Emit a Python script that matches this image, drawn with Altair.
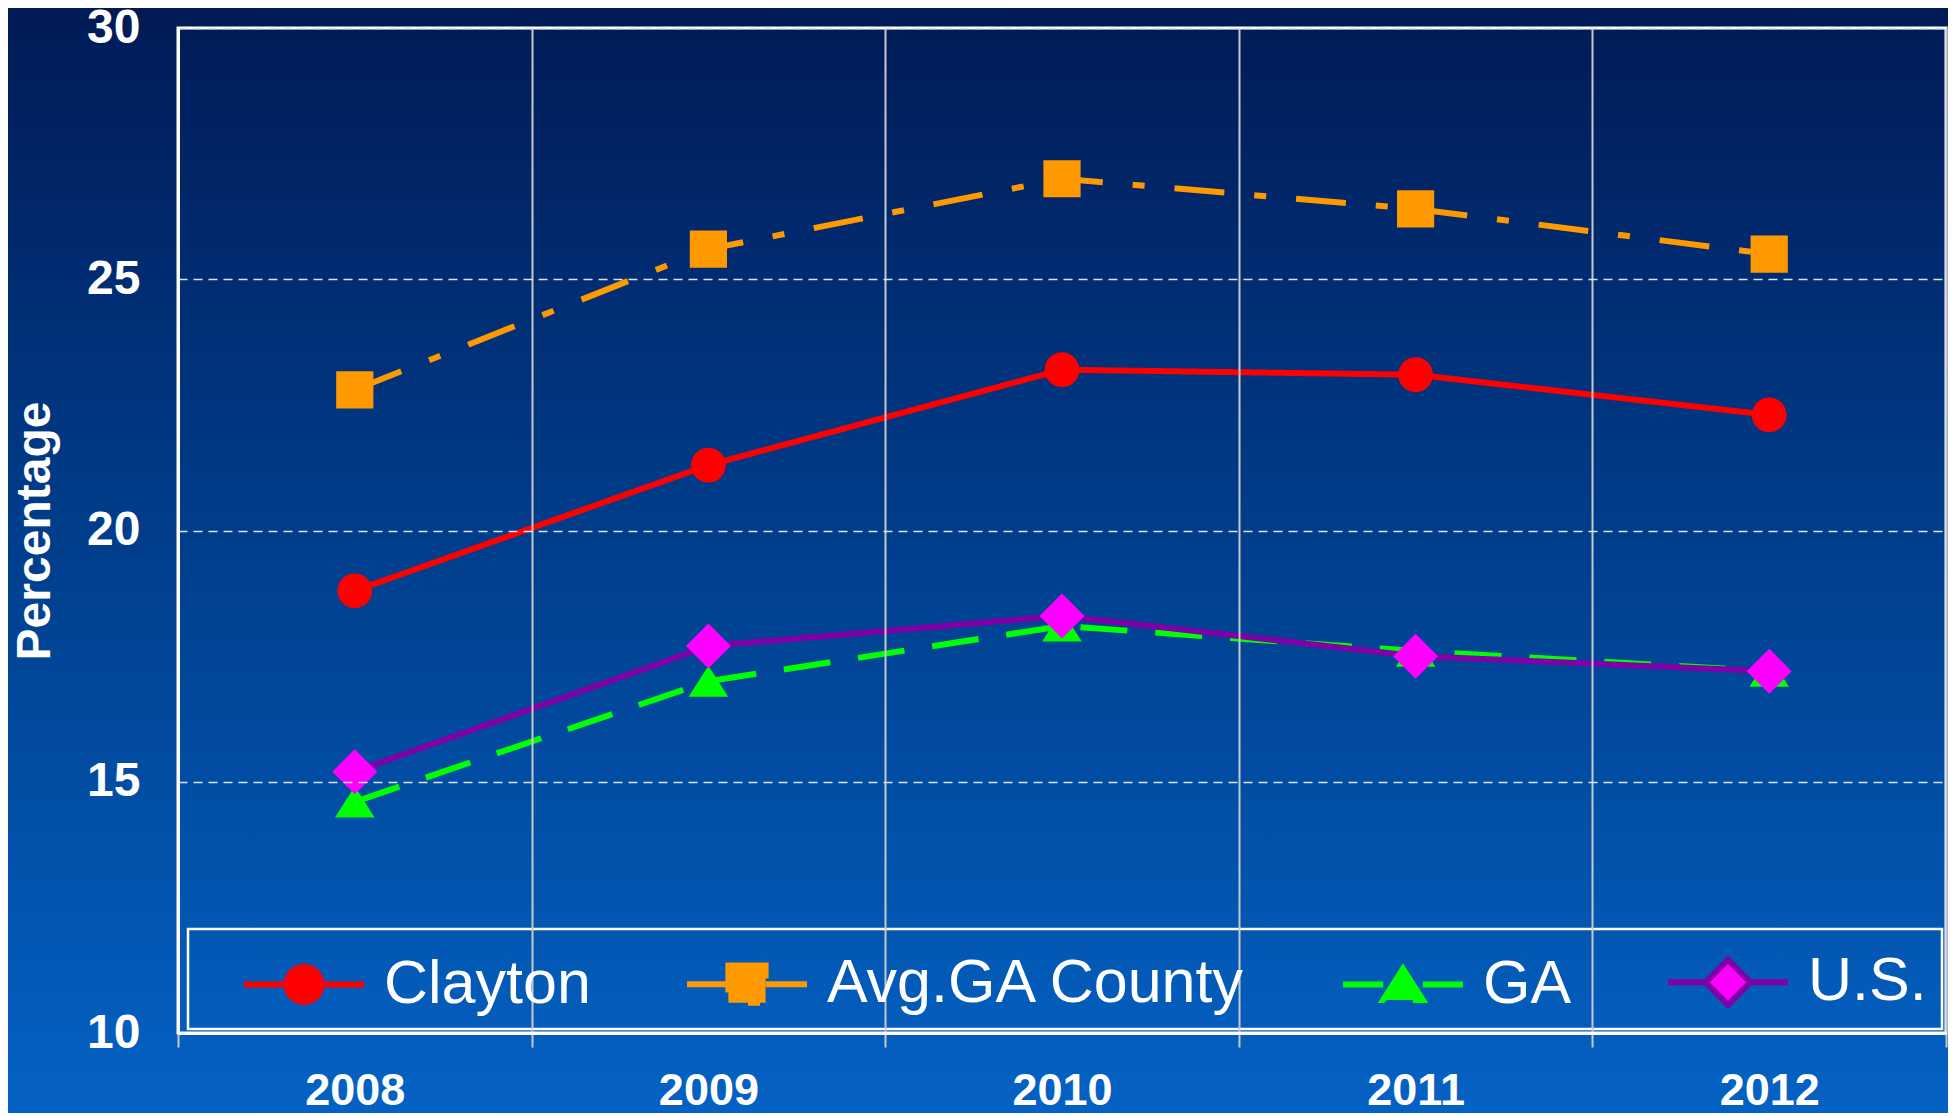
import altair as alt
import pandas as pd

years = ["2008", "2009", "2010", "2011", "2012"]
series = ["Clayton", "Avg.GA County", "GA", "U.S."]
clayton = [18.8, 21.3, 23.2, 23.1, 22.3]
avg_ga_county = [22.8, 25.6, 27.0, 26.4, 25.5]
ga = [14.6, 17.0, 18.1, 17.6, 17.2]
us = [15.2, 17.7, 18.3, 17.5, 17.2]

line_colors = ["#ff0000", "#ff9900", "#00ff00", "#7f00a6"]
marker_colors = ["#ff0000", "#ff9900", "#00ff00", "#ff00ff"]
dashes = [[1, 0], [50, 30, 12, 30], [47, 28], [1, 0]]
# legend-style symbols: short line stubs + marker (stubs have no area, so only markers show on the plot)
shapes = [
    "M-1,0H-0.29M0.29,0H1M0.29,0A0.29,0.29,0,1,1,-0.29,0A0.29,0.29,0,1,1,0.29,0Z",
    "M-1,0H-0.31M0.31,0H1M-0.31,-0.31H0.31V0.31H-0.31Z",
    "M-1,0H-0.33M0.33,0H1M0,-0.26L0.33,0.26H-0.33Z",
    "M-1,0H-0.375M0.375,0H1M0,-0.375L0.375,0L0,0.375L-0.375,0Z",
]

values = [clayton, avg_ga_county, ga, us]
rows = []
for s, vals in zip(series, values):
    for y, v in zip(years, vals):
        rows.append({"series": s, "year": y, "value": v})
df = pd.DataFrame(rows)

W, H = 1768, 1005
PAD = {"left": 170, "top": 20, "right": 2, "bottom": 80}

bg = alt.Chart(alt.Data(values=[{}])).mark_rect(
    fill=alt.LinearGradient(
        gradient="linear",
        stops=[
            alt.GradientStop(color="#011a56", offset=0),
            alt.GradientStop(color="#003f8e", offset=0.5),
            alt.GradientStop(color="#0462c4", offset=1),
        ],
        x1=0, x2=0, y1=0, y2=1,
    )
).encode(
    x=alt.value(-PAD["left"]), x2=alt.value(W + PAD["right"]),
    y=alt.value(-PAD["top"]), y2=alt.value(H + PAD["bottom"]),
)

x_enc = alt.X(
    "year:N",
    scale=alt.Scale(type="band", domain=years, paddingInner=0, paddingOuter=0),
    axis=alt.Axis(
        title=None, tickBand="extent", grid=True, gridColor="#c8c8c8", gridWidth=2,
        domainColor="white", domainWidth=3, tickColor="#c8c8c8", tickWidth=2, tickSize=14,
        labelFont="Liberation Sans", labelFontWeight="bold", labelFontSize=45,
        labelColor="white", labelPadding=21, labelAngle=0, zindex=1,
    ),
)
y_enc = alt.Y(
    "value:Q",
    scale=alt.Scale(domain=[10, 30], nice=False, zero=False),
    axis=alt.Axis(
        title="Percentage", values=[10, 15, 20, 25, 30], grid=True, gridColor="#dde4f0",
        gridDash=[9, 6], gridWidth=1.5, domainColor="white", domainWidth=3, ticks=False,
        labelFont="Liberation Sans", labelFontWeight="bold", labelFontSize=48,
        labelColor="white", labelPadding=38, titleFont="Liberation Sans",
        titleFontWeight="bold", titleFontSize=48, titleColor="white", titlePadding=27,
        zindex=1,
    ),
)

base = alt.Chart(df)

lines = base.mark_line(strokeWidth=6, strokeCap="butt").encode(
    x=x_enc, y=y_enc,
    stroke=alt.Stroke("series:N", scale=alt.Scale(domain=series, range=line_colors), legend=alt.Legend(title=None)),
    strokeDash=alt.StrokeDash("series:N", scale=alt.Scale(domain=series, range=dashes), legend=alt.Legend(title=None)),
    detail="series:N",
)

points = base.mark_point(filled=True, opacity=1, strokeWidth=0, size=14400).encode(
    x=x_enc, y=y_enc,
    fill=alt.Fill("series:N", scale=alt.Scale(domain=series, range=marker_colors), legend=alt.Legend(title=None)),
    shape=alt.Shape("series:N", scale=alt.Scale(domain=series, range=shapes), legend=alt.Legend(title=None)),
)

frame = alt.Chart(alt.Data(values=[{}])).mark_rect(
    fillOpacity=0, stroke="white", strokeWidth=3
).encode(x=alt.value(0), x2=alt.value(W), y=alt.value(0), y2=alt.value(H))

legend_box = alt.Chart(alt.Data(values=[{}])).mark_rect(
    fillOpacity=0, stroke="white", strokeWidth=2.5
).encode(x=alt.value(10), x2=alt.value(W - 4), y=alt.value(H - 104), y2=alt.value(H - 4))

chart = alt.layer(bg, lines, points, frame, legend_box).properties(
    width=W, height=H,
    autosize=alt.AutoSizeParams(type="none"),
    padding=PAD,
).configure(
    background="#003f8e",
).configure_view(
    stroke=None,
).configure_legend(
    orient="none", legendX=63, legendY=H - 114, direction="horizontal",
    labelFont="Liberation Sans", labelFontSize=61, labelColor="white",
    labelOffset=17, columnPadding=84, symbolSize=14400, symbolStrokeWidth=6,
    labelLimit=2000, padding=0, zindex=1,
)

chart.save("out.html", embed_options={"renderer": "svg", "actions": False})
